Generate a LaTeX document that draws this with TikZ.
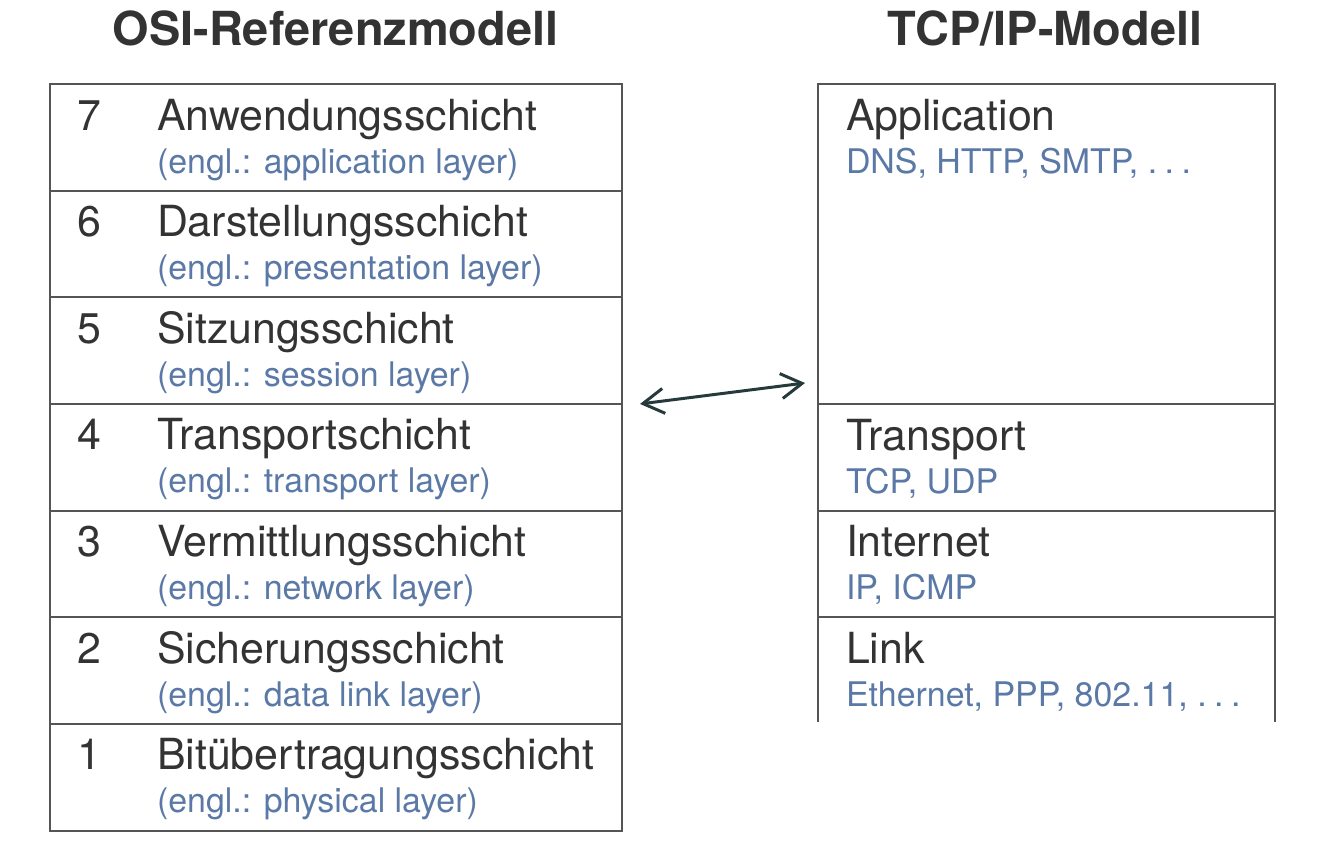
\documentclass[tikz,border=0pt]{standalone}
\usepackage{fontspec}
\setmainfont{TeX Gyre Heros}
\usetikzlibrary{arrows.meta, positioning}
\definecolor{laygray}{HTML}{333333}
\definecolor{layblue}{HTML}{5B79A6}
\definecolor{boxline}{HTML}{555555}
\definecolor{arrowdark}{HTML}{263A3C}
\tikzset{node distance = 0pt,
         every node/.style = {inner sep = 0pt, outer sep = 0pt},
         osilayer/.style = {draw = boxline, line width = 1.1pt,
                            minimum width = 11.44cm, minimum height = 2.133cm},
         tcplayer/.style = {draw = boxline, line width = 1.1pt,
                            minimum width = 9.14cm, minimum height = 2.133cm},
         title/.style = {anchor = base, text = laygray,
                         font = \fontsize{26.7}{30}\selectfont\bfseries},
         numtext/.style = {anchor = base, text = laygray,
                           font = \fontsize{24.4}{28}\selectfont},
         laytext/.style = {anchor = base west, text = laygray,
                           font = \fontsize{24.4}{28}\selectfont},
         subtext/.style = {anchor = base west, text = layblue,
                           font = \fontsize{19.3}{22}\selectfont}}
\newcommand{\spdots}{.\hspace{0.22em}.\hspace{0.22em}.}

\begin{document}
\begin{tikzpicture}
    \useasboundingbox (0,0) rectangle (26.66,-16.88);

    % titles
    \node[title] (osititle) at (6.71,-0.9)  {OSI-Referenzmodell};
    \node[title] (tcptitle) at (20.9,-0.9)  {TCP/IP-Modell};

    % OSI layers
    \node[osilayer, anchor = north west] (l7) at (1,-1.68) {};
    \node[osilayer, below = of l7] (l6) {};
    \node[osilayer, below = of l6] (l5) {};
    \node[osilayer, below = of l5] (l4) {};
    \node[osilayer, below = of l4] (l3) {};
    \node[osilayer, below = of l3] (l2) {};
    \node[osilayer, below = of l2] (l1) {};

    \node[numtext] (n7) at ([shift={(0.78,-0.92)}]l7.north west) {7};
    \node[laytext] (a7) at ([shift={(2.14,-0.92)}]l7.north west) {Anwendungsschicht};
    \node[subtext] (e7) at ([shift={(2.14,-1.78)}]l7.north west) {(engl.: application layer)};

    \node[numtext] (n6) at ([shift={(0.78,-0.92)}]l6.north west) {6};
    \node[laytext] (a6) at ([shift={(2.14,-0.92)}]l6.north west) {Darstellungsschicht};
    \node[subtext] (e6) at ([shift={(2.14,-1.78)}]l6.north west) {(engl.: presentation layer)};

    \node[numtext] (n5) at ([shift={(0.78,-0.92)}]l5.north west) {5};
    \node[laytext] (a5) at ([shift={(2.14,-0.92)}]l5.north west) {Sitzungsschicht};
    \node[subtext] (e5) at ([shift={(2.14,-1.78)}]l5.north west) {(engl.: session layer)};

    \node[numtext] (n4) at ([shift={(0.78,-0.92)}]l4.north west) {4};
    \node[laytext] (a4) at ([shift={(2.14,-0.92)}]l4.north west) {Transportschicht};
    \node[subtext] (e4) at ([shift={(2.14,-1.78)}]l4.north west) {(engl.: transport layer)};

    \node[numtext] (n3) at ([shift={(0.78,-0.92)}]l3.north west) {3};
    \node[laytext] (a3) at ([shift={(2.14,-0.92)}]l3.north west) {Vermittlungsschicht};
    \node[subtext] (e3) at ([shift={(2.14,-1.78)}]l3.north west) {(engl.: network layer)};

    \node[numtext] (n2) at ([shift={(0.78,-0.92)}]l2.north west) {2};
    \node[laytext] (a2) at ([shift={(2.14,-0.92)}]l2.north west) {Sicherungsschicht};
    \node[subtext] (e2) at ([shift={(2.14,-1.78)}]l2.north west) {(engl.: data link layer)};

    \node[numtext] (n1) at ([shift={(0.78,-0.92)}]l1.north west) {1};
    \node[laytext] (a1) at ([shift={(2.14,-0.92)}]l1.north west) {Bitübertragungsschicht};
    \node[subtext] (e1) at ([shift={(2.14,-1.78)}]l1.north west) {(engl.: physical layer)};

    % TCP/IP layers
    \node[tcplayer, anchor = north west, minimum height = 6.4cm] (app) at (16.36,-1.68) {};
    \node[tcplayer, below = of app] (trans) {};
    \node[tcplayer, below = of trans] (inet) {};
    \node[tcplayer, draw = none, minimum height = 2.1cm, below = of inet] (link) {};
    \draw[boxline, line width = 1.1pt] (link.south west) -- (link.north west)
        -- (link.north east) -- (link.south east);

    \node[laytext] (appname)  at ([shift={(0.56,-0.92)}]app.north west)   {Application};
    \node[subtext] (appproto) at ([shift={(0.56,-1.78)}]app.north west)   {DNS, HTTP, SMTP, \spdots};
    \node[laytext] (trname)   at ([shift={(0.56,-0.92)}]trans.north west) {Transport};
    \node[subtext] (trproto)  at ([shift={(0.56,-1.78)}]trans.north west) {TCP, UDP};
    \node[laytext] (inname)   at ([shift={(0.56,-0.92)}]inet.north west)  {Internet};
    \node[subtext] (inproto)  at ([shift={(0.56,-1.78)}]inet.north west)  {IP, ICMP};
    \node[laytext] (lkname)   at ([shift={(0.56,-0.92)}]link.north west)  {Link};
    \node[subtext] (lkproto)  at ([shift={(0.56,-1.78)}]link.north west)  {Ethernet, PPP, 802.11, \spdots};

    % mapping arrow
    \coordinate (osiend) at ([xshift=0.36cm]l4.north east);
    \coordinate (tcpend) at ([shift={(-0.26cm,0.42cm)}]app.south west);
    \draw[arrowdark, line width = 1.7pt,
          {Straight Barb[length = 0.42cm, width = 0.5cm]}-{Straight Barb[length = 0.42cm, width = 0.5cm]}]
        (osiend) -- (tcpend);
\end{tikzpicture}
\end{document}
